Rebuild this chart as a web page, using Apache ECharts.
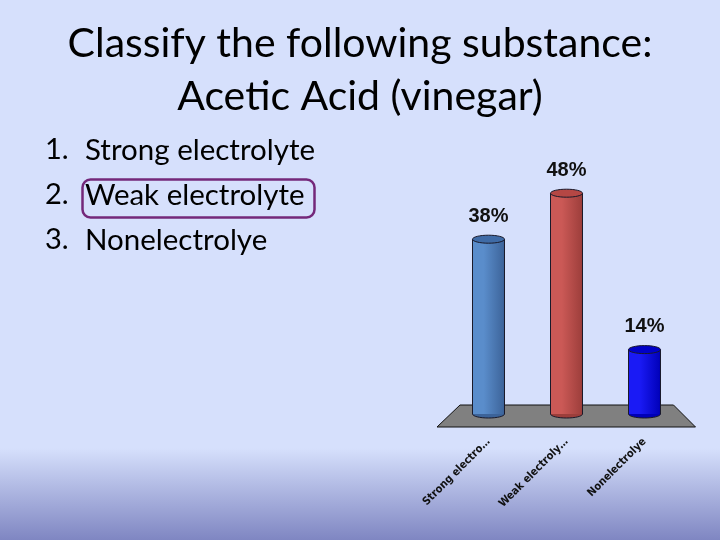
<!DOCTYPE html>
<html>
<head>
<meta charset="utf-8">
<script src="https://cdn.jsdelivr.net/npm/echarts@6/dist/echarts.min.js"></script>
<style>html,body{margin:0;padding:0;}#c{width:720px;height:540px;}</style>
</head>
<body>
<div id="c"></div>
<script>
const titleLines = ['Classify the following substance:', 'Acetic Acid (vinegar)'];
const answerItems = ['Strong electrolyte', 'Weak electrolyte', 'Nonelectrolye'];
const categories = ['Strong electrolyte', 'Weak electrolyte', 'Nonelectrolye'];
const tickLabels = ['Strong electro…', 'Weak electroly…', 'Nonelectrolye'];
const values = [38, 48, 14];
const barColors = [
  ['#5A8DCB', '#3C6399', '#3F6BA6'],
  ['#CB5956', '#9C3E3B', '#B54744'],
  ['#1A1AF5', '#0000B8', '#0000C8']
];

const chart = echarts.init(document.getElementById('c'), null, {renderer: 'canvas'});

function renderBar(params, api) {
  const idx = api.value(0);
  const v = api.value(1);
  const top = api.coord([idx, v]);
  const base = api.coord([idx, 0]);
  const w = api.size([1, 0])[0] * 0.41;
  const rx = w / 2, ry = 4;
  const c = barColors[params.dataIndex];
  const cx = top[0];
  const grad = new echarts.graphic.LinearGradient(0, 0, 1, 0, [
    {offset: 0, color: c[0]}, {offset: 0.35, color: c[0]}, {offset: 1, color: c[1]}
  ]);
  return {
    type: 'group',
    children: [
      {type: 'ellipse', shape: {cx: cx, cy: base[1], rx: rx, ry: ry},
       style: {fill: c[1], stroke: '#1a1a2a', lineWidth: 1}},
      {type: 'rect', shape: {x: cx - rx, y: top[1], width: w, height: base[1] - top[1]},
       style: {fill: grad}},
      {type: 'line', shape: {x1: cx - rx, y1: top[1], x2: cx - rx, y2: base[1]},
       style: {stroke: '#1a1a2a', lineWidth: 1}},
      {type: 'line', shape: {x1: cx + rx, y1: top[1], x2: cx + rx, y2: base[1]},
       style: {stroke: '#1a1a2a', lineWidth: 1}},
      {type: 'ellipse', shape: {cx: cx, cy: top[1], rx: rx, ry: ry},
       style: {fill: c[2], stroke: '#1a1a2a', lineWidth: 1}},
      {type: 'text', x: cx, y: top[1] - ry - 9,
       style: {text: v + '%', textAlign: 'center', textVerticalAlign: 'bottom',
               font: 'bold 20px "Liberation Sans"', fill: '#111111'}}
    ]
  };
}

function renderFloor(params, api) {
  const cs = params.coordSys;
  const y0 = api.coord([0, 0])[1];
  const l = cs.x, r = cs.x + cs.width;
  return {
    type: 'polygon',
    shape: {points: [[l - 12.5, y0 + 13], [l + 10.5, y0 - 9], [r - 10, y0 - 9], [r + 12, y0 + 13]]},
    style: {fill: '#808080', stroke: '#111111', lineWidth: 1}
  };
}

const listGraphics = [];
answerItems.forEach(function (t, i) {
  listGraphics.push({type: 'text', left: 45, top: 135 + i * 45,
    style: {text: (i + 1) + '.', font: '29px Lato', fill: '#000000'}});
  listGraphics.push({type: 'text', left: 85, top: 135 + i * 45,
    style: {text: t, font: '29.5px Lato', fill: '#000000'}});
});
listGraphics.push({type: 'rect', left: 80, top: 177,
  shape: {width: 232, height: 38, r: 8},
  style: {fill: 'none', stroke: '#74287A', lineWidth: 2.5}});

chart.setOption({
  backgroundColor: new echarts.graphic.LinearGradient(0, 0, 0, 1, [
    {offset: 0, color: '#D6E0FC'}, {offset: 0.83, color: '#D6E0FC'}, {offset: 1, color: '#7F86C2'}
  ]),
  title: {
    text: titleLines.join('\n'), left: 'center', top: 12,
    textStyle: {fontFamily: 'Lato', fontWeight: 'normal', fontSize: 41, lineHeight: 53, color: '#000000'}
  },
  graphic: listGraphics,
  grid: {left: 449.5, width: 234, top: 184, height: 230},
  xAxis: {
    type: 'category', data: categories,
    axisLine: {show: false}, axisTick: {show: false}, splitLine: {show: false},
    axisLabel: {rotate: 45, margin: 26, interval: 0, color: '#111111',
      fontFamily: '"DejaVu Sans Condensed", "DejaVu Sans"', fontWeight: 'bold', fontSize: 11,
      formatter: function (val, i) { return tickLabels[i]; }}
  },
  yAxis: {type: 'value', min: 0, max: 50, show: false, splitLine: {show: false}},
  series: [
    {type: 'custom', renderItem: renderFloor, data: [[0, 0]], silent: true, z: 1},
    {type: 'custom', renderItem: renderBar, data: values.map(function (v, i) { return [i, v]; }), z: 2}
  ]
});
</script>
</body>
</html>
